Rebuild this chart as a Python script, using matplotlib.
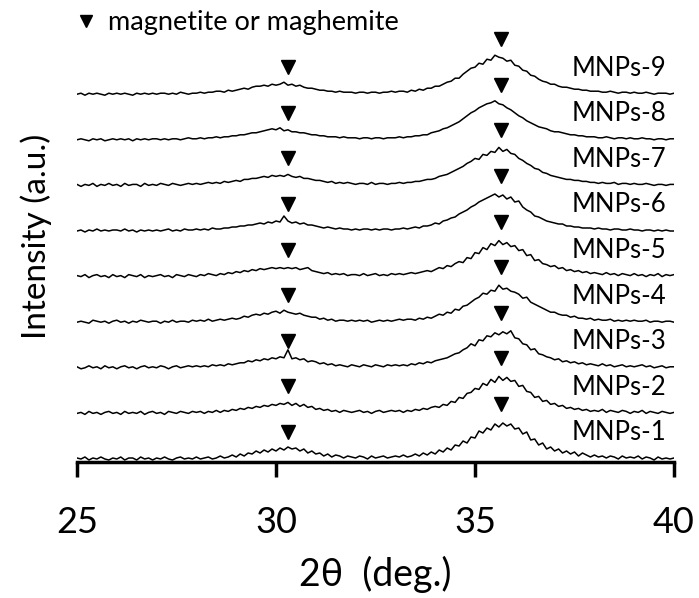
import numpy as np
import matplotlib
matplotlib.use('Agg')
import matplotlib.pyplot as plt
from matplotlib.lines import Line2D

plt.rcParams['font.family'] = ['Lato', 'Noto Sans', 'DejaVu Sans']

# 2theta grid, 25.0 .. 40.0 in 0.1 deg steps
two_theta = np.round(np.arange(250, 401) / 10.0, 1)

# intensity (arbitrary units, baseline ~0)
mnps_1 = [1, 0, 2, -1, 1, 0, 2, 0, -1, 1,
          0, 2, -1, 1, 1, -1, 2, 0, 1, -1,
          1, 0, 2, 0, -1, 1, 2, 0, 1, 0,
          2, 0, 1, 2, 0, 1, 3, 1, 2, 4,
          2, 5, 3, 6, 5, 8, 6, 9, 7, 10,
          8, 11, 9, 12, 10, 11, 8, 10, 6, 8,
          5, 6, 3, 5, 2, 4, 3, 1, 3, 2,
          1, 3, 2, 0, 3, 1, 2, 3, 1, 2,
          3, 2, 4, 2, 3, 5, 3, 6, 4, 7,
          5, 9, 7, 11, 9, 14, 13, 18, 16, 22,
          21, 28, 26, 31, 29, 35, 32, 36, 33, 35,
          30, 31, 25, 27, 19, 20, 14, 16, 10, 12,
          8, 10, 6, 8, 5, 7, 3, 6, 4, 2,
          4, 2, 3, 1, 3, 2, 0, 3, 1, 2,
          1, 3, 0, 2, 1, -1, 2, 0, 1, 0,
          1]
mnps_2 = [0, 1, -1, 2, 0, 1, -1, 1, 2, 0,
          1, -1, 2, 0, 1, 0, 2, -1, 1, 2,
          0, 1, -1, 2, 1, 0, 2, 1, 0, 2,
          1, 2, 0, 2, 1, 3, 1, 3, 2, 4,
          3, 5, 4, 6, 5, 7, 6, 8, 7, 9,
          8, 10, 9, 11, 8, 10, 7, 9, 6, 7,
          4, 5, 3, 4, 2, 3, 1, 3, 2, 1,
          2, 3, 1, 2, 0, 2, 3, 1, 2, 3,
          2, 3, 1, 3, 2, 4, 3, 5, 4, 6,
          7, 6, 9, 8, 12, 11, 16, 15, 20, 21,
          25, 24, 30, 28, 34, 31, 37, 33, 36, 32,
          33, 27, 28, 22, 21, 16, 17, 12, 13, 9,
          10, 7, 8, 5, 6, 4, 5, 3, 4, 2,
          3, 2, 4, 1, 3, 2, 1, 3, 2, 0,
          2, 1, 3, 0, 2, 1, 0, 2, 1, 0,
          1]
mnps_3 = [1, -1, 0, 2, 0, 1, -1, 2, 0, 1,
          -1, 1, 2, 0, 1, -1, 1, 2, 0, 1,
          0, 2, 1, -1, 1, 2, 0, 1, 2, 1,
          2, 1, 2, 1, 3, 2, 3, 2, 4, 3,
          4, 5, 5, 7, 6, 8, 7, 9, 8, 10,
          9, 11, 10, 18, 9, 10, 8, 9, 6, 7,
          6, 4, 5, 3, 4, 2, 3, 2, 1, 3,
          2, 1, 3, 2, 1, 3, 2, 1, 3, 2,
          3, 2, 3, 2, 4, 3, 5, 4, 6, 5,
          7, 8, 9, 10, 12, 14, 15, 18, 20, 24,
          22, 28, 27, 32, 31, 35, 33, 36, 34, 37,
          30, 29, 24, 23, 18, 19, 14, 13, 11, 10,
          8, 9, 6, 7, 5, 6, 4, 5, 3, 4,
          3, 2, 4, 2, 3, 1, 2, 3, 1, 2,
          1, 2, 3, 1, 2, 0, 1, 2, 0, 1,
          1]
mnps_4 = [0, 1, 0, -1, 2, 1, 0, 1, -1, 1,
          2, 0, 1, -1, 1, 0, 2, 1, 0, 1,
          1, -1, 1, 0, 2, 0, 1, 1, 0, 2,
          1, 2, 1, 3, 1, 2, 3, 2, 3, 4,
          3, 4, 6, 5, 7, 8, 7, 9, 8, 10,
          11, 9, 12, 10, 9, 8, 9, 7, 6, 5,
          5, 3, 4, 2, 3, 1, 2, 2, 1, 2,
          1, 2, 1, 2, 0, 1, 2, 1, 2, 1,
          2, 3, 2, 3, 3, 2, 4, 3, 5, 4,
          6, 8, 7, 10, 9, 13, 12, 16, 17, 20,
          23, 25, 29, 28, 32, 31, 37, 33, 34, 31,
          30, 28, 24, 25, 20, 18, 16, 14, 12, 10,
          10, 8, 7, 7, 5, 6, 4, 4, 3, 4,
          2, 3, 2, 2, 3, 1, 2, 1, 2, 1,
          2, 1, 1, 2, 0, 1, 1, 0, 1, 1,
          0]
mnps_5 = [1, 0, 2, -1, 1, 2, 0, 1, -1, 2,
          0, 1, -1, 2, 1, 0, 2, -1, 1, 0,
          1, 2, 0, 1, -1, 2, 1, 0, 2, 1,
          0, 2, 1, 3, 2, 1, 3, 2, 4, 3,
          5, 4, 6, 5, 7, 6, 8, 7, 8, 9,
          8, 9, 8, 9, 8, 9, 7, 8, 9, 6,
          5, 4, 3, 4, 2, 3, 2, 3, 1, 2,
          2, 1, 3, 1, 2, 3, 1, 2, 1, 3,
          2, 3, 2, 3, 4, 3, 4, 5, 6, 5,
          7, 9, 8, 11, 10, 13, 15, 14, 19, 18,
          24, 23, 29, 27, 33, 31, 36, 32, 34, 30,
          31, 26, 27, 21, 22, 16, 17, 13, 12, 10,
          11, 8, 9, 6, 7, 5, 6, 4, 5, 3,
          4, 3, 2, 4, 2, 3, 1, 3, 2, 1,
          3, 1, 2, 0, 2, 1, 3, 0, 2, 1,
          2]
mnps_6 = [0, 1, -1, 1, 0, 2, 0, 1, 0, 1,
          1, 0, 2, 0, 1, -1, 1, 0, 1, 0,
          1, 0, 1, 2, 0, 1, 0, 2, 1, 1,
          2, 1, 2, 1, 3, 2, 2, 3, 3, 4,
          4, 5, 5, 6, 6, 7, 8, 7, 9, 8,
          10, 9, 15, 10, 8, 9, 7, 8, 6, 6,
          5, 4, 3, 4, 3, 2, 3, 2, 2, 1,
          2, 1, 2, 2, 1, 2, 1, 2, 2, 1,
          2, 2, 3, 2, 3, 4, 3, 5, 5, 6,
          8, 7, 10, 11, 13, 14, 17, 19, 21, 24,
          26, 29, 31, 33, 35, 37, 34, 36, 32, 34,
          29, 30, 24, 21, 19, 15, 14, 12, 10, 9,
          8, 7, 7, 5, 5, 4, 4, 3, 3, 3,
          2, 3, 2, 2, 1, 2, 2, 1, 1, 2,
          1, 1, 0, 1, 1, 0, 1, 0, 1, 0,
          0]
mnps_7 = [1, -1, 1, 0, 2, -1, 1, 0, 2, 0,
          1, -1, 2, 0, 1, 1, -1, 2, 0, 1,
          0, 2, 1, 0, 2, 1, 0, 1, 2, 1,
          2, 1, 2, 3, 2, 3, 2, 4, 3, 4,
          5, 4, 6, 6, 7, 7, 8, 9, 8, 10,
          9, 10, 9, 11, 9, 8, 9, 7, 7, 6,
          5, 5, 4, 3, 4, 2, 3, 2, 3, 2,
          1, 2, 2, 1, 3, 1, 2, 2, 1, 2,
          2, 3, 2, 3, 3, 4, 4, 5, 6, 6,
          7, 9, 10, 11, 13, 15, 17, 19, 22, 24,
          27, 26, 31, 30, 34, 33, 38, 34, 36, 32,
          31, 27, 25, 22, 20, 17, 16, 13, 12, 10,
          9, 8, 7, 6, 6, 5, 5, 4, 4, 3,
          3, 2, 3, 2, 2, 3, 1, 2, 2, 1,
          2, 1, 1, 2, 1, 0, 1, 1, 0, 1,
          1]
mnps_8 = [0, 1, 0, -1, 1, 0, 1, -1, 0, 1,
          0, 1, 0, 1, -1, 1, 0, 1, 0, 1,
          1, 0, 1, 0, 1, 1, 0, 1, 2, 1,
          1, 2, 1, 2, 2, 3, 2, 3, 3, 4,
          4, 5, 5, 6, 7, 7, 8, 9, 10, 11,
          10, 12, 9, 10, 8, 8, 7, 7, 6, 5,
          5, 4, 4, 3, 3, 3, 2, 3, 2, 2,
          2, 1, 2, 2, 1, 2, 2, 1, 2, 2,
          2, 3, 2, 3, 3, 4, 4, 5, 5, 7,
          8, 9, 11, 12, 14, 16, 18, 21, 24, 27,
          29, 32, 34, 36, 37, 39, 36, 35, 32, 30,
          27, 24, 22, 19, 17, 15, 13, 12, 11, 9,
          8, 8, 7, 6, 5, 5, 4, 4, 3, 3,
          3, 2, 2, 3, 2, 1, 2, 2, 1, 2,
          1, 1, 2, 1, 1, 0, 1, 1, 0, 1,
          1]
mnps_9 = [0, 1, -1, 1, 0, 1, 0, -1, 1, 0,
          1, 0, 1, 0, -1, 1, 0, 1, 0, 1,
          0, 1, 1, 0, 1, 0, 2, 1, 0, 1,
          1, 2, 1, 2, 2, 3, 3, 2, 4, 3,
          4, 5, 6, 5, 7, 8, 8, 9, 8, 10,
          9, 10, 12, 9, 10, 8, 9, 7, 6, 6,
          5, 4, 4, 3, 3, 2, 3, 2, 2, 2,
          1, 2, 2, 1, 2, 2, 1, 2, 2, 3,
          2, 3, 3, 2, 4, 3, 5, 4, 6, 6,
          8, 8, 10, 12, 13, 16, 16, 20, 23, 26,
          27, 31, 30, 35, 34, 39, 37, 36, 33, 34,
          29, 28, 24, 23, 19, 18, 15, 13, 12, 10,
          10, 8, 7, 7, 6, 5, 5, 4, 4, 3,
          3, 3, 2, 2, 3, 2, 1, 2, 2, 1,
          2, 1, 1, 2, 1, 0, 1, 1, 1, 0,
          1]

samples = ['MNPs-1', 'MNPs-2', 'MNPs-3', 'MNPs-4', 'MNPs-5',
           'MNPs-6', 'MNPs-7', 'MNPs-8', 'MNPs-9']
patterns = [mnps_1, mnps_2, mnps_3, mnps_4, mnps_5,
            mnps_6, mnps_7, mnps_8, mnps_9]

# magnetite / maghemite reflections
peak_pos = [30.3, 35.65]

x_ticks = [25, 30, 35, 40]

# layout: one y unit = one pixel
offset0 = 3
step = 45.6
marker_gap = [27, 55]

fig = plt.figure(figsize=(6.99, 5.98), dpi=100)
ax = fig.add_axes([77 / 699, (598 - 462) / 598, (674 - 77) / 699, 452 / 598])

for k, (name, y) in enumerate(zip(samples, patterns)):
    base = offset0 + k * step
    ax.plot(two_theta, np.array(y) + base, color='black', lw=1.1)
    ax.text(39.8, base + 26, name, ha='right', va='center', fontsize=18.5)
    for p, g in zip(peak_pos, marker_gap):
        ax.plot(p, base + g, marker='v', color='black', markersize=10, ls='none')

ax.set_xlim(25, 40)
ax.set_ylim(0, 452)
ax.set_xticks(x_ticks)
ax.set_xticklabels([str(t) for t in x_ticks], fontsize=26)
ax.set_yticks([])
for s in ['top', 'right', 'left']:
    ax.spines[s].set_visible(False)
ax.spines['bottom'].set_linewidth(2.5)
ax.tick_params(axis='x', direction='out', length=11, width=2.5, pad=21)
ax.set_xlabel('2θ  (deg.)', fontsize=27, labelpad=12)
ax.set_ylabel('Intensity (a.u.)', fontsize=24, labelpad=18)

handle = Line2D([], [], marker='v', color='black', ls='none', markersize=9)
ax.legend([handle], ['magnetite or maghemite'], loc='upper left',
          bbox_to_anchor=(-0.035, 1.035), frameon=False, fontsize=19.5,
          handletextpad=0.3, handlelength=1.0, borderaxespad=0.2)

fig.savefig('out.png', dpi=100)
